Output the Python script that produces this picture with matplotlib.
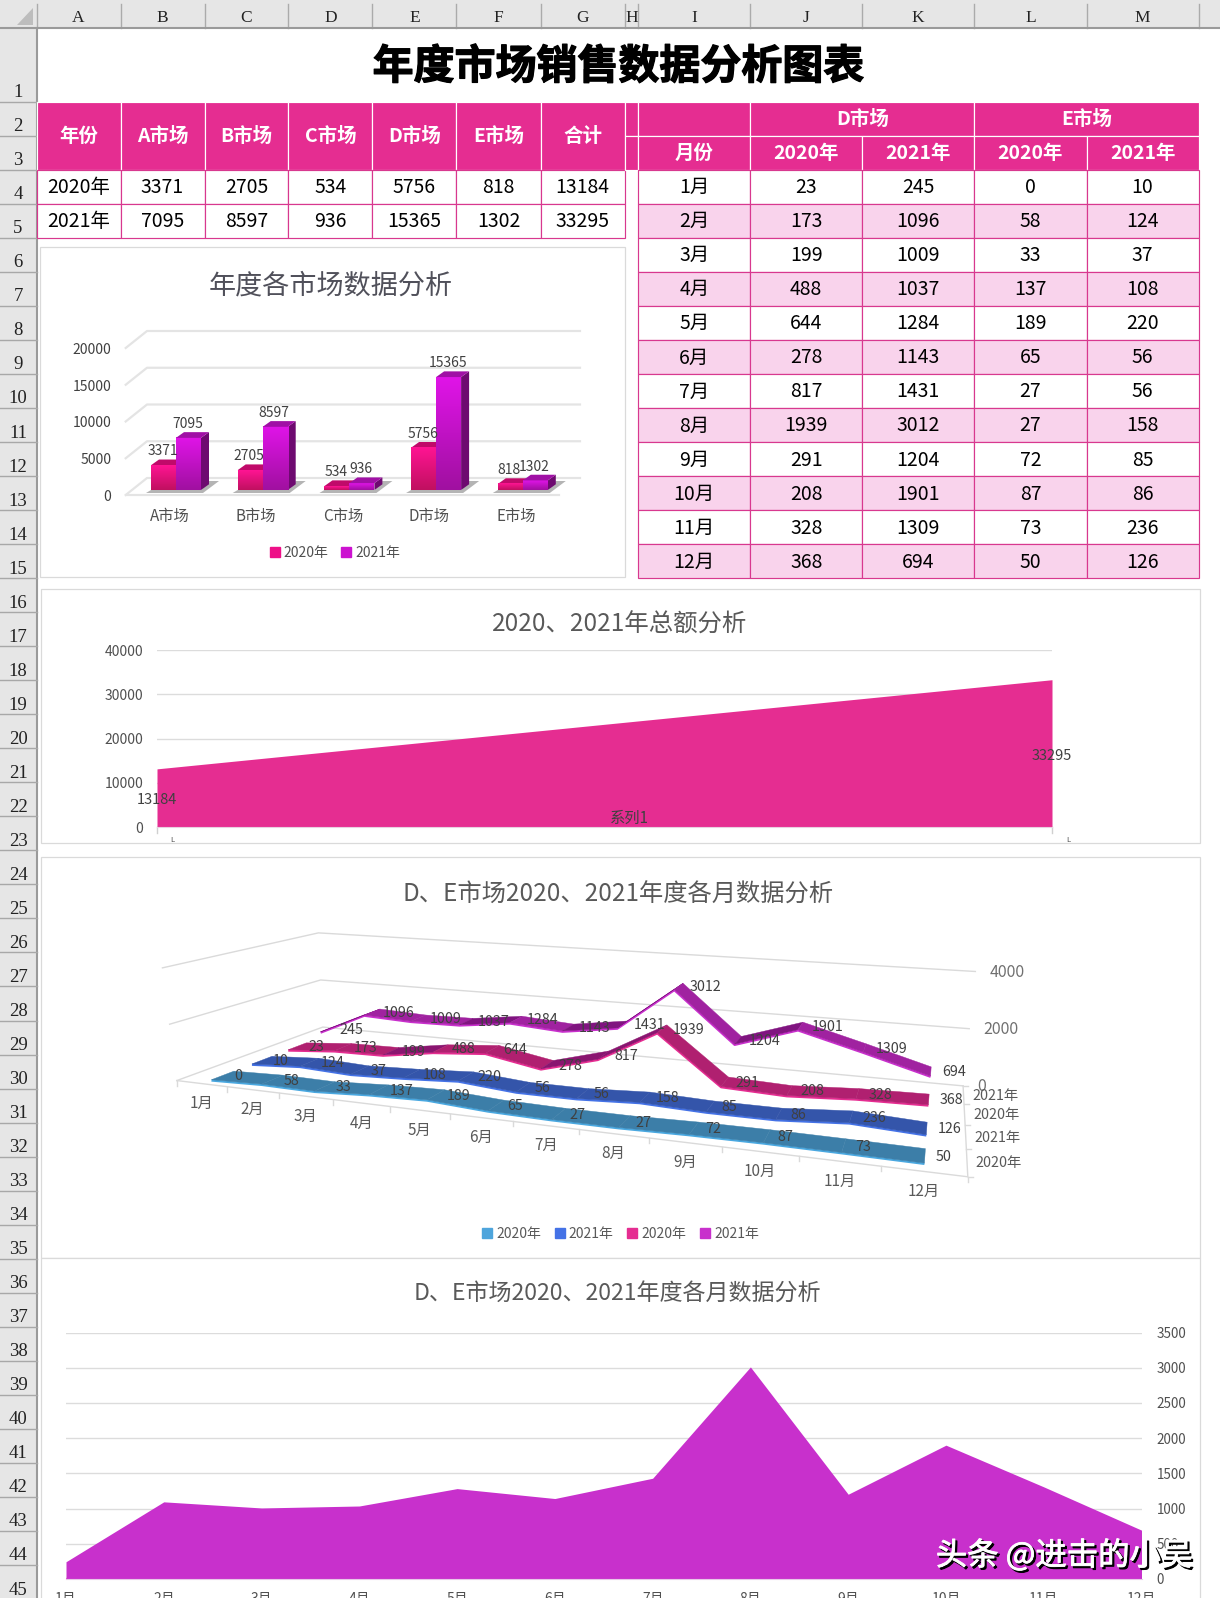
import matplotlib
matplotlib.use('Agg')
import matplotlib.pyplot as plt
import matplotlib.patheffects as pe
import numpy as np
from matplotlib.patches import Rectangle, Polygon, Patch
from matplotlib.collections import PolyCollection

plt.rcParams['font.family'] = ['Noto Sans CJK SC', 'DejaVu Sans']

W, H = 1220, 1598

# data
markets = ['A市场', 'B市场', 'C市场', 'D市场', 'E市场']
years = ['2020年', '2021年']
sales_2020 = [3371, 2705, 534, 5756, 818]
sales_2021 = [7095, 8597, 936, 15365, 1302]
total_2020 = 13184
total_2021 = 33295
months = ['1月', '2月', '3月', '4月', '5月', '6月', '7月', '8月', '9月', '10月', '11月', '12月']
d_2020 = [23, 173, 199, 488, 644, 278, 817, 1939, 291, 208, 328, 368]
d_2021 = [245, 1096, 1009, 1037, 1284, 1143, 1431, 3012, 1204, 1901, 1309, 694]
e_2020 = [0, 58, 33, 137, 189, 65, 27, 27, 72, 87, 73, 50]
e_2021 = [10, 124, 37, 108, 220, 56, 56, 158, 85, 86, 236, 126]
col_names = list('ABCDEFGHIJKLM')

PINK = '#E52D91'
PURPLE = '#C830CC'
LINE = '#D8388F'
ZEBRA = '#F9D3EC'
GREY = '#595959'
GRID = '#DCDCDC'

col_x = [36.6, 120.5, 204.5, 288.4, 372.3, 456.4, 540.6, 624.5, 638.4, 750.2, 862.2, 974.3, 1086.5, 1198.6]
row_y = [28] + [101.7 + 34.03 * k for k in range(45)]

fig = plt.figure(figsize=(W / 100, H / 100), dpi=100)
ax = fig.add_axes([0, 0, 1, 1])
ax.set_xlim(0, W)
ax.set_ylim(H, 0)
ax.axis('off')


def box(x0, y0, x1, y1):
    a = fig.add_axes([x0 / W, 1 - y1 / H, (x1 - x0) / W, (y1 - y0) / H])
    a.patch.set_alpha(0)
    return a


def cell(c0, c1, r0, r1, text='', fill='white', edge=LINE, color='black', bold=False, size=14):
    # r0, r1 are sheet rows: r0 is the first row, r1 the row after the last
    x0, x1 = col_x[c0], col_x[c1]
    y0, y1 = row_y[r0 - 1], row_y[r1 - 1]
    ax.add_patch(Rectangle((x0, y0), x1 - x0, y1 - y0, fc=fill, ec=edge, lw=0.85, zorder=2))
    if text != '':
        ax.text((x0 + x1) / 2, (y0 + y1) / 2 + 1, str(text), ha='center', va='center', color=color,
                fontsize=size, fontweight='bold' if bold else 'normal', zorder=3)


# sheet headers
ax.add_patch(Rectangle((0, 0), W, 28, fc='#E6E6E6', ec='none'))
ax.add_patch(Rectangle((0, 0), 36.6, H, fc='#E6E6E6', ec='none'))
ax.add_patch(Polygon([(33, 8), (33, 25), (16.5, 25)], fc='#BDBDBD', ec='none'))
for i, name in enumerate(col_names):
    ax.plot([col_x[i + 1]] * 2, [4, 28], color='#ABABAB', lw=1)
    ax.text((col_x[i] + col_x[i + 1]) / 2, 17.5, name, ha='center', va='center', fontsize=12.5,
            family='Liberation Serif', color='#222222')
ax.plot([col_x[0]] * 2, [4, 28], color='#ABABAB', lw=1)
ax.plot([0, W], [28, 28], color='#9A9A9A', lw=1.5)
ax.plot([36.6, 36.6], [28, H], color='#9A9A9A', lw=1.5)
for k in range(1, 46):
    ax.plot([0, 36.6], [row_y[k]] * 2, color='#A8A8A8', lw=1)
    ax.text(18, row_y[k] - 9, str(k), ha='center', va='center', fontsize=13.5,
            family='Liberation Serif', color='#222222')

# title
ax.text(618.6, 67, '年度市场销售数据分析图表', ha='center', va='center', fontsize=29.5, fontweight='bold',
        color='black', path_effects=[pe.withStroke(linewidth=0.9, foreground='black')])

# left table
cell(0, 1, 2, 4, '年份', PINK, 'white', 'white', True)
for i, name in enumerate(markets):
    cell(i + 1, i + 2, 2, 4, name, PINK, 'white', 'white', True)
cell(6, 7, 2, 4, '合计', PINK, 'white', 'white', True)
left_rows = [(years[0], sales_2020, total_2020), (years[1], sales_2021, total_2021)]
for r, (label, vals, total) in enumerate(left_rows):
    cell(0, 1, 4 + r, 5 + r, label)
    for i, v in enumerate(vals):
        cell(i + 1, i + 2, 4 + r, 5 + r, v)
    cell(6, 7, 4 + r, 5 + r, total)

# right table
cell(7, 8, 2, 3, '', PINK, 'white')
cell(7, 8, 3, 4, '', PINK, 'white')
cell(8, 9, 2, 3, '', PINK, 'white')
cell(9, 11, 2, 3, 'D市场', PINK, 'white', 'white', True)
cell(11, 13, 2, 3, 'E市场', PINK, 'white', 'white', True)
cell(8, 9, 3, 4, '月份', PINK, 'white', 'white', True)
for i in range(4):
    cell(9 + i, 10 + i, 3, 4, years[i % 2], PINK, 'white', 'white', True)
for m, name in enumerate(months):
    fill = ZEBRA if m % 2 else 'white'
    cell(8, 9, 4 + m, 5 + m, name, fill)
    for i, s in enumerate([d_2020, d_2021, e_2020, e_2021]):
        cell(9 + i, 10 + i, 4 + m, 5 + m, s[m], fill)

# chart frames
for y0, y1 in [(247, 577), (589, 843), (857, 1258), (1258, 1620)]:
    x0 = 39.6 if y0 == 247 else 40.5
    x1 = 624.5 if y0 == 247 else 1200
    ax.add_patch(Rectangle((x0, y0), x1 - x0, y1 - y0, fc='white', ec='#DADADA', lw=0.9, zorder=1))

# chart 1: columns with a drawn depth
ax1 = box(100, 300, 600, 520)
XU, YU = 86.7, 0.00735
x_px = lambda p: (p - 176) / XU
y_px = lambda p: (490 - p) / YU
xlim1, ylim1 = (x_px(100), x_px(600)), (y_px(520), y_px(300))
ax1.axis('off')
DX, DY = 8 / XU, 5.7 / YU
BW = 25 / XU

for v in [0, 5000, 10000, 15000, 20000]:
    front = v - 5 / YU
    back = v + 12 / YU
    if v == 0:
        ax1.plot([x_px(125.7), x_px(559)], [front, front], color='#E4E4E4', lw=1.6)
    ax1.plot([x_px(125.7), x_px(147), x_px(580)], [front, back, back], color='#E4E4E4', lw=1.6)
    ax1.text(x_px(111.5), front - 2 / YU, str(v), ha='right', va='center', fontsize=10, color='#404040')

grad = np.linspace(0, 1, 64).reshape(-1, 1)
styles = [('#FF1493', '#C01060', '#C00A6A', '#8E0A58'), ('#E014E8', '#A010A0', '#A010A5', '#6E0A70')]
for i in range(len(markets)):
    L = i - BW
    ax1.add_patch(Polygon([(L - 5 / XU, y_px(493)), (i + BW + 2 / XU, y_px(493)), (i + BW + 18 / XU, y_px(481)),
                           (i + BW + 8 / XU, y_px(481)), (i + BW, 0), (L, 0)], fc='#B4B4B4', ec='none'))
    for j, vals in enumerate([sales_2020, sales_2021]):
        v = vals[i]
        x0 = i - BW + j * BW
        top_c, bot_c, lid_c, side_c = styles[j]
        ax1.bar(x0, v, width=BW, align='edge', color=top_c, zorder=3)
        c0, c1 = np.array(matplotlib.colors.to_rgb(top_c)), np.array(matplotlib.colors.to_rgb(bot_c))
        img = (c0[None, None, :] * (1 - grad[:, :, None]) + c1[None, None, :] * grad[:, :, None])
        ax1.imshow(img, extent=(x0, x0 + BW, 0, v), aspect='auto', origin='upper', zorder=3.1)
        ax1.add_patch(Polygon([(x0, v), (x0 + BW, v), (x0 + BW + DX, v + DY), (x0 + DX, v + DY)],
                              fc=lid_c, ec='none', zorder=2.9 + j * 0.3))
        ax1.add_patch(Polygon([(x0 + BW, 0), (x0 + BW + DX, DY), (x0 + BW + DX, v + DY), (x0 + BW, v)],
                              fc=side_c, ec='none', zorder=2.8 + j * 0.3))
        ax1.annotate(str(v), (x0 + BW / 2, v), xytext=(-0.7, 10), textcoords='offset points', ha='center',
                     va='center', fontsize=10, color='#404040', zorder=5)
    ax1.text(i - 6.6 / XU, y_px(516), markets[i], ha='center', va='center', fontsize=11, color='#505050')
ax1.set_xlim(*xlim1)
ax1.set_ylim(*ylim1)
ax.text(331, 286, '年度各市场数据分析', ha='center', va='center', fontsize=19.5, color='#50505A', zorder=3)
leg1 = ax1.legend(handles=[Patch(color='#EE1088', label=years[0]), Patch(color='#CC12D0', label=years[1])],
                  loc='center', bbox_to_anchor=(335 / W, 1 - 552.7 / H), bbox_transform=fig.transFigure, ncol=2,
                  frameon=False, fontsize=10, handlelength=0.7, handleheight=0.7, handletextpad=0.3,
                  columnspacing=0.9, labelcolor='#505050')

# chart 2: total area
ax2 = box(157, 650, 1052, 827.3)
ax2.fill_between([0, 1], [total_2020, total_2021], color=PINK, lw=0, zorder=2)
ax2.set_xlim(0, 1)
ax2.set_ylim(0, 40000)
ax2.set_yticks([0, 10000, 20000, 30000, 40000])
ax2.tick_params(axis='y', length=0, pad=10, labelsize=10, labelcolor='#505050')
ax2.grid(axis='y', color=GRID, lw=1, zorder=0)
ax2.set_xticks([])
for s in ['top', 'left', 'right']:
    ax2.spines[s].set_visible(False)
ax2.spines['bottom'].set_color('#E8D0E0')
ax2.text(0, 6100, str(total_2020), ha='center', va='center', fontsize=10.5, color='#404040', zorder=4)
ax2.text(1, 16100, str(total_2021), ha='center', va='center', fontsize=10.5, color='#404040', zorder=4)
ax2.text(0.528, 2100, '系列1', ha='center', va='center', fontsize=11, color='#404040', zorder=4)
ax.text(620, 625, '2020、2021年总额分析', ha='center', va='center', fontsize=17.6, color=GREY, zorder=3)
for x, lx in [(157, 172.8), (1052, 1068.5)]:
    ax.plot([x, x], [827.3, 833], color='#D0D0D0', lw=1, zorder=3)
    ax.text(lx, 840, 'L', ha='center', va='center', fontsize=5.5, color='#505050', zorder=3)

# chart 3: ribbons on a perspective floor


def homography(src, dst):
    rows = []
    for (u, v), (x, y) in zip(src, dst):
        rows.append([u, v, 1, 0, 0, 0, -u * x, -v * x, -x])
        rows.append([0, 0, 0, u, v, 1, -u * y, -v * y, -y])
    return np.linalg.svd(np.array(rows))[2][-1].reshape(3, 3)


def apply_h(h, u, w):
    p = h @ np.array([u, w, 1.0])
    return p[:2] / p[2]


corners = [(0, 0), (12, 0), (12, 4), (0, 4)]
floor_corners = [(176.7, 1079.7), (967.3, 1176.7), (962.7, 1085.4), (322.7, 1028)]
front_ticks = [(176.7, 1079.7), (226.7, 1086.8), (278.3, 1092.8), (333.3, 1098.9), (390.7, 1106.2), (450.7, 1113.6),
               (513.3, 1121.3), (579.3, 1129.7), (648.6, 1138), (721.7, 1148.2), (799.3, 1157.6), (880.7, 1166.6),
               (967.3, 1176.7)]
side_ticks = [(964.3, 1103.6), (965.7, 1124.7), (966.7, 1148.9)]
fit_src = corners + [(i, 0) for i in range(1, 12)] + [(12, 3), (12, 2), (12, 1)]
fit_dst = floor_corners + front_ticks[1:12] + side_ticks
floor_h = homography(fit_src, fit_dst)
corner_h = homography(corners, floor_corners)
top_h = homography(corners, [(162.3, 967), (982, 1033), (975, 971), (318.3, 933.8)])
VMAX = 4000


def project(u, w, v=0):
    lift = apply_h(top_h, u, w) - apply_h(corner_h, u, w)
    return apply_h(floor_h, u, w) + lift * v / VMAX


def path3d(pts):
    return np.array([project(*p) for p in pts])


for v in [0, 2000, 4000]:
    xy = path3d([(0, 0, v), (0, 4, v), (12, 4, v)])
    ax.plot(xy[:, 0], xy[:, 1], color='#DADADA', lw=1, zorder=3)
    p = project(12, 4, v)
    ax.text(p[0] + 14, p[1] + 1, str(v), ha='left', va='center', fontsize=11.5, color='#707070', zorder=4)
xy = path3d([(0, 0), (12, 0), (12, 4)])
ax.plot(xy[:, 0], xy[:, 1], color='#DADADA', lw=1, zorder=3)
for i in range(13):
    p = project(i, 0)
    ax.plot([p[0], p[0]], [p[1], p[1] + 5], color='#DADADA', lw=1, zorder=3)
for s in range(5):
    p = project(12, s)
    ax.plot([p[0], p[0] + 5], [p[1], p[1]], color='#DADADA', lw=1, zorder=3)
for i, name in enumerate(months):
    p = project(i + 0.5, 0)
    ax.text(p[0], p[1] + 20, name, ha='center', va='center', fontsize=11, color='#595959', zorder=4)

ribbons = [
    (e_2020, '2020年', '#3C7EA8', '#2F6A90', '#4AA8E0'),
    (e_2021, '2021年', '#3455AA', '#2A4590', '#4472E6'),
    (d_2020, '2020年', '#B02070', '#8A1570', PINK),
    (d_2021, '2021年', '#A022A0', '#801480', PURPLE),
]
HALF = 0.27
for s in range(3, -1, -1):
    vals, label, c_top, c_dark, c_edge = ribbons[s]
    w = s + 0.5
    front = path3d([(i + 0.5, w - HALF, vals[i]) for i in range(12)])
    back = path3d([(i + 0.5, w + HALF, vals[i]) for i in range(12)])
    z = 5 + (3 - s)
    ax.plot(front[:, 0], front[:, 1] + 0.8, color=c_edge, lw=1.6, zorder=z, solid_capstyle='butt')
    quads = [[front[i], front[i + 1], back[i + 1], back[i]] for i in range(11)]
    colors = [c_dark if vals[i + 1] - vals[i] > 200 else c_top for i in range(11)]
    ax.add_collection(PolyCollection(quads, facecolors=colors, edgecolors=colors, linewidths=0.3, zorder=z))
    for i in range(12):
        p = project(i + 0.5, w, vals[i])
        ax.text(p[0] + 11, p[1] + 1, str(vals[i]), ha='left', va='center', fontsize=10.3, color='#404040',
                zorder=10)
    p = project(12, w)
    ax.text(p[0] + 31.7, p[1] + 1, label, ha='center', va='center', fontsize=10.3, color='#595959', zorder=4)
ax.text(617.6, 895, 'D、E市场2020、2021年度各月数据分析', ha='center', va='center', fontsize=17.5, color=GREY,
        zorder=3)
ax.legend(handles=[Patch(color=c, label=r[1]) for c, r in zip(['#4EA5DC', '#4472E6', PINK, PURPLE], ribbons)],
          loc='center', bbox_to_anchor=(620.5 / W, 1 - 1234 / H), bbox_transform=fig.transFigure, ncol=4,
          frameon=False, fontsize=10, handlelength=0.7, handleheight=0.7, handletextpad=0.3, columnspacing=1.0,
          labelcolor='#595959').set_zorder(4)

# chart 4: monthly area, the tallest series drawn last
ax4 = box(66, 1332.6, 1141.5, 1579)
x = np.arange(12)
for vals, c in [(e_2020, '#4EA5DC'), (e_2021, '#4472E6'), (d_2020, PINK), (d_2021, PURPLE)]:
    ax4.fill_between(x, vals, color=c, lw=0, zorder=2)
ax4.set_xlim(0, 11)
ax4.set_ylim(0, 3500)
ax4.yaxis.tick_right()
ax4.set_yticks(range(0, 3501, 500))
ax4.tick_params(axis='y', length=0, pad=11, labelsize=9.7, labelcolor='#505050')
ax4.set_xticks(x, months)
ax4.tick_params(axis='x', length=0, pad=9, labelsize=10, labelcolor='#505050')
ax4.grid(axis='y', color=GRID, lw=1, zorder=0)
for s in ['top', 'left', 'right']:
    ax4.spines[s].set_visible(False)
ax4.spines['bottom'].set_color('#E8C8E8')
ax.text(617.6, 1294, 'D、E市场2020、2021年度各月数据分析', ha='center', va='center', fontsize=16.6, color=GREY,
        zorder=3)

# watermark
fig.text(1066 / W, 1 - 1558 / H, '头条 @进击的小吴', ha='center', va='center', fontsize=22.6, color='black',
         zorder=20, path_effects=[pe.withStroke(linewidth=0.8, foreground='black')])
fig.text(1064 / W, 1 - 1556 / H, '头条 @进击的小吴', ha='center', va='center', fontsize=22.6, color='white',
         zorder=21, path_effects=[pe.withStroke(linewidth=0.6, foreground='white')])

fig.savefig('out.png', dpi=100)
